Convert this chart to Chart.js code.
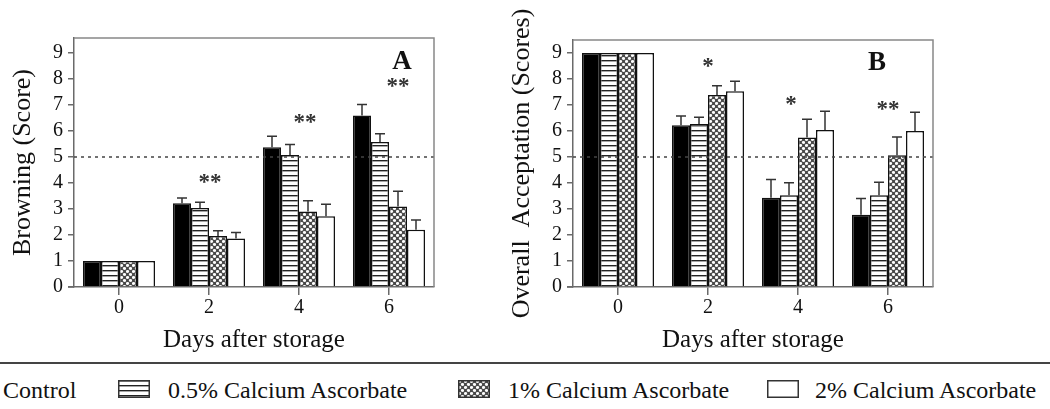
<!DOCTYPE html>
<html>
<head>
<meta charset="utf-8">
<script src="https://cdn.jsdelivr.net/npm/chart.js@4/dist/chart.umd.min.js"></script>
<style>
  body { margin: 0; background: #fff; width: 1050px; height: 409px; overflow: hidden; position: relative; font-family: 'Liberation Serif', 'Times New Roman', serif; color: #111; }
  canvas.chart { position: absolute; top: 0; }
  #sep { position: absolute; left: 0; top: 362px; width: 1050px; height: 2px; background: #444; }
  .lg { position: absolute; top: 376px; font-size: 24px; line-height: 28px; white-space: nowrap; }
  .sw { position: absolute; top: 380px; }
</style>
</head>
<body>
<canvas id="chartA" class="chart" width="500" height="360" style="left:0"></canvas>
<canvas id="chartB" class="chart" width="500" height="360" style="left:499px"></canvas>
<div id="sep"></div>
<div id="legend"></div>

<script>
const days = ['0', '2', '4', '6'];
const seriesNames = ['Control', '0.5% Calcium Ascorbate', '1% Calcium Ascorbate', '2% Calcium Ascorbate'];

// A: browning score
const browning = [
  [1, 3.22, 5.38, 6.6],
  [1, 3.04, 5.08, 5.58],
  [1, 1.96, 2.9, 3.1],
  [1, 1.87, 2.72, 2.2]
];
const browningErr = [
  [0, 0.2, 0.42, 0.42],
  [0, 0.22, 0.4, 0.32],
  [0, 0.2, 0.42, 0.58],
  [0, 0.23, 0.46, 0.38]
];
const browningStars = ['', '**', '**', '**'];

// B: overall acceptation
const acceptation = [
  [9, 6.22, 3.43, 2.78],
  [9, 6.27, 3.53, 3.53],
  [9, 7.38, 5.75, 5.07],
  [9, 7.53, 6.04, 6.0]
];
const acceptationErr = [
  [0, 0.36, 0.7, 0.62],
  [0, 0.26, 0.48, 0.5],
  [0, 0.36, 0.7, 0.7],
  [0, 0.38, 0.72, 0.72]
];
const acceptationStars = ['', '*', '*', '**'];

const yTicks = [0, 1, 2, 3, 4, 5, 6, 7, 8, 9];
const cutOff = 5;

// star placement (value units) and small x nudges
const starPosA = { y: [0, 4.2, 6.5, 7.9], dx: [0, 1, 6, 9] };
const starPosB = { y: [0, 8.65, 7.2, 7.0], dx: [0, 0, -7, 0] };

const serif = "'Liberation Serif', 'Times New Roman', serif";
const ink = '#111';
const axisGray = '#6a6a6a';

function makeTile(w, h, draw) {
  const c = document.createElement('canvas');
  c.width = w; c.height = h;
  const g = c.getContext('2d');
  draw(g);
  return g.createPattern(c, 'repeat');
}
const stripes = makeTile(4, 5, g => {
  g.fillStyle = '#fff'; g.fillRect(0, 0, 4, 5);
  g.fillStyle = '#222'; g.fillRect(0, 0, 4, 1.4);
});
const dots = makeTile(6, 6, g => {
  g.fillStyle = '#4a4a4a'; g.fillRect(0, 0, 6, 6);
  g.fillStyle = '#fff';
  [[1.5, 1.5], [4.5, 4.5]].forEach(([x, y]) => { g.beginPath(); g.ellipse(x, y, 1.7, 1.4, 0, 0, Math.PI * 2); g.fill(); });
});
const fills = ['#000', stripes, dots, '#fff'];

const frame = {
  id: 'frame',
  afterDatasetsDraw(chart, args, opts) {
    const { ctx, chartArea: a, scales: { x, y } } = chart;
    ctx.save();
    // dotted cut-off line
    ctx.strokeStyle = '#444';
    ctx.lineWidth = 1.5;
    ctx.setLineDash([3, 4]);
    const yc = y.getPixelForValue(cutOff);
    ctx.beginPath(); ctx.moveTo(a.left, yc); ctx.lineTo(a.right, yc); ctx.stroke();
    ctx.setLineDash([]);

    // error bars (upper only)
    ctx.strokeStyle = '#333';
    ctx.lineWidth = 1.5;
    chart.data.datasets.forEach((ds, i) => {
      chart.getDatasetMeta(i).data.forEach((bar, j) => {
        const e = opts.err[i][j];
        if (!e) return;
        const yt = y.getPixelForValue(ds.data[j] + e);
        ctx.beginPath();
        ctx.moveTo(bar.x, bar.y); ctx.lineTo(bar.x, yt);
        ctx.moveTo(bar.x - 5, yt); ctx.lineTo(bar.x + 5, yt);
        ctx.stroke();
      });
    });

    // box top / right, axis extension
    ctx.strokeStyle = '#888';
    ctx.lineWidth = 1.5;
    ctx.beginPath();
    ctx.moveTo(a.left, a.top); ctx.lineTo(a.right, a.top); ctx.lineTo(a.right, a.bottom);
    ctx.stroke();
    ctx.strokeStyle = axisGray;
    ctx.beginPath(); ctx.moveTo(a.left - 6, a.bottom); ctx.lineTo(a.left, a.bottom); ctx.stroke();

    // significance stars
    ctx.fillStyle = '#333';
    ctx.font = 'bold 23px ' + serif;
    ctx.textAlign = 'center';
    ctx.textBaseline = 'alphabetic';
    opts.stars.forEach((s, j) => {
      if (!s) return;
      const px = x.getPixelForValue(j) + opts.starPos.dx[j];
      ctx.fillText(s, px, y.getPixelForValue(opts.starPos.y[j]) + 11);
    });

    // panel letter
    ctx.fillStyle = '#111';
    ctx.font = 'bold 27px ' + serif;
    ctx.textBaseline = 'middle';
    ctx.fillText(opts.letter, opts.letterX, opts.letterY);
    ctx.restore();
  }
};

function buildChart(id, values, err, stars, starPos, yTitle, yMax, top, letter, letterX, letterY) {
  return new Chart(document.getElementById(id), {
    type: 'bar',
    data: {
      labels: days,
      datasets: values.map((v, i) => ({
        label: seriesNames[i],
        data: v,
        backgroundColor: fills[i],
        borderColor: '#111',
        borderWidth: 1.5,
        categoryPercentage: 0.8,
        barPercentage: 1.0
      }))
    },
    options: {
      responsive: false,
      animation: false,
      layout: { padding: { top: top, right: 66, left: 0, bottom: 0 } },
      plugins: {
        legend: { display: false },
        tooltip: { enabled: false },
        frame: { err, stars, starPos, letter, letterX, letterY }
      },
      scales: {
        x: {
          grid: { display: true, offset: false, drawOnChartArea: false, tickLength: 8, color: axisGray, lineWidth: 1.5 },
          border: { color: axisGray, width: 1.5 },
          ticks: { font: { family: serif, size: 20 }, color: ink, padding: 1 },
          title: { display: true, text: 'Days after storage', font: { family: serif, size: 25 }, color: ink, padding: { top: 0, bottom: 5 } },
          afterFit: s => { s.height = 73; }
        },
        y: {
          min: 0,
          max: yMax,
          afterBuildTicks: s => { s.ticks = yTicks.map(v => ({ value: v })); },
          grid: { display: true, drawOnChartArea: false, tickLength: 6, color: axisGray, lineWidth: 1.5 },
          border: { color: axisGray, width: 1.5 },
          ticks: { font: { family: serif, size: 20 }, color: ink, padding: 5 },
          title: { display: true, text: yTitle, font: { family: serif, size: 26 }, color: ink, padding: { top: 8, bottom: 0 } },
          afterFit: s => { s.width = 74; }
        }
      }
    },
    plugins: [frame]
  });
}

buildChart('chartA', browning, browningErr, browningStars, starPosA, 'Browning (Score)', 9.58, 38, 'A', 402, 62);
buildChart('chartB', acceptation, acceptationErr, acceptationStars, starPosB, 'Overall  Acceptation (Scores)', 9.5, 40, 'B', 378, 63);

// shared legend under the rule
const legend = document.getElementById('legend');
const legendX = [
  { text: 3 },
  { sw: 118, text: 168 },
  { sw: 458, text: 508 },
  { sw: 767, text: 815 }
];
seriesNames.forEach((name, i) => {
  const pos = legendX[i];
  if (pos.sw !== undefined) {
    const c = document.createElement('canvas');
    c.width = 32; c.height = 18;
    c.className = 'sw';
    c.style.left = pos.sw + 'px';
    const g = c.getContext('2d');
    g.fillStyle = fills[i];
    g.fillRect(0, 0, 32, 18);
    g.strokeStyle = '#333';
    g.lineWidth = 1.5;
    g.strokeRect(0.75, 0.75, 30.5, 16.5);
    legend.appendChild(c);
  }
  const t = document.createElement('div');
  t.className = 'lg';
  t.style.left = pos.text + 'px';
  t.textContent = name;
  legend.appendChild(t);
});
</script>
</body>
</html>
